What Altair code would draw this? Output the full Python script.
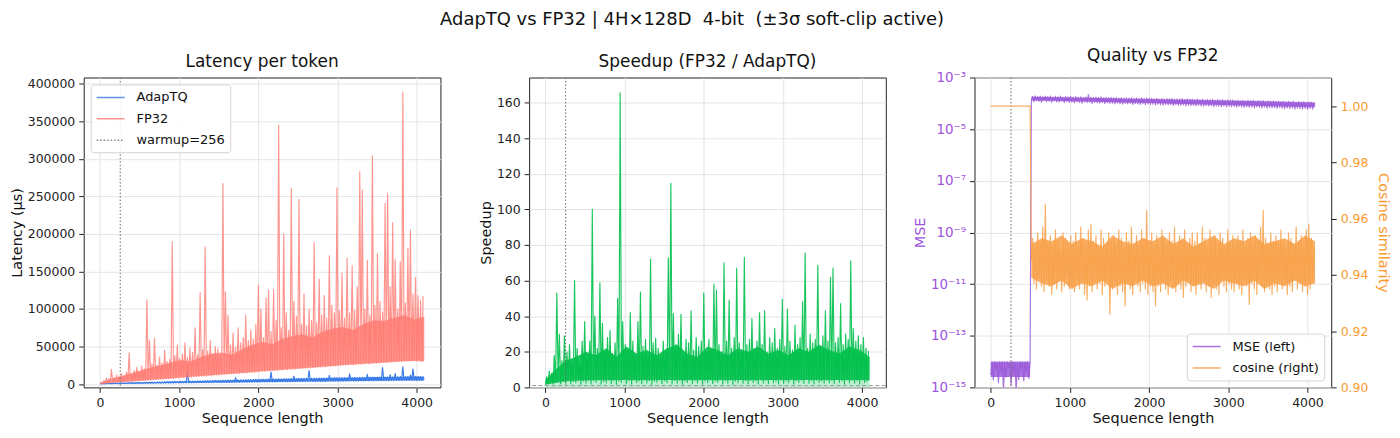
import altair as alt
import pandas as pd

FONT = "DejaVu Sans"
TITLE = "AdapTQ vs FP32 | 4H\u00d7128D \u00a04-bit \u00a0(\u00b13\u03c3 soft-clip active)"

# sequence positions of the sampled troughs (lo) and peaks (hi)
SEQ_LO = list(range(1, 4096, 32))
SEQ_HI = list(range(17, 4096, 32))
WARMUP = 256

# positions where the solid core of each noisy band was read (every 128 tokens)
BAND_SEQ = [1] + list(range(128, 4097, 128))

# ---- Latency per token (values in thousands of microseconds) ----
FP32_LO_K = [
    0.3, 0.5, 1.0, 1.1, 1.7, 1.8, 2.2, 2.3, 2.8, 2.7, 3.2, 3.3, 3.8, 3.7, 4.2, 4.3,
    4.6, 4.8, 5.3, 5.2, 5.8, 5.9, 6.1, 6.5, 6.4, 7.0, 7.1, 7.3, 7.8, 7.6, 8.2, 8.3,
    8.7, 8.6, 9.2, 9.4, 9.3, 9.9, 10.2, 10.1, 10.7, 10.8, 11.0, 11.5, 11.3, 11.9, 12.2, 12.1,
    12.7, 12.9, 13.1, 13.6, 13.4, 14.1, 14.3, 14.2, 14.9, 15.1, 15.0, 15.7, 15.9, 15.8, 16.5, 16.7,
    17.0, 17.2, 17.6, 17.4, 18.1, 18.3, 18.2, 18.9, 19.0, 19.4, 19.3, 19.9, 20.1, 20.0, 20.7, 20.9,
    21.1, 21.5, 21.3, 22.0, 22.2, 22.1, 22.8, 23.0, 23.2, 23.1, 23.8, 24.0, 24.3, 24.1, 24.9, 25.1,
    25.4, 25.3, 25.8, 26.1, 25.9, 26.5, 26.7, 26.6, 27.1, 27.3, 27.2, 27.8, 28.0, 27.9, 28.4, 28.6,
    28.8, 28.7, 29.3, 29.5, 29.4, 29.9, 30.2, 30.1, 30.6, 30.8, 30.7, 31.2, 31.4, 31.3, 31.8, 30.0,
]
FP32_HI_K = [
    2.5, 5, 8, 7, 19.5, 9, 12, 10, 14, 11, 16, 41.6, 13, 18, 22, 17,
    24, 20, 112.4, 59, 27, 61, 25, 36, 28, 45, 30, 33, 189.8, 38, 52, 34,
    40, 55, 36, 48, 42, 75, 39, 122, 46, 183, 44, 58, 41, 50, 47, 38,
    267, 123, 92, 52, 68, 49, 75, 55, 62, 92, 58, 72, 60, 80, 132, 100,
    62, 115, 125, 70, 126, 85, 344.7, 75, 200, 95, 72, 260.6, 110, 90, 246, 80,
    120, 78, 100, 85, 188.5, 82, 140, 92, 118, 88, 170.8, 105, 95, 261.5, 98, 148,
    88, 167.7, 95, 158, 98, 130, 282.7, 258.4, 100, 165, 92, 304, 105, 174, 110, 96,
    240.7, 254, 130, 215, 166, 100, 163, 389, 108, 181, 205, 120, 142, 118, 112, 117,
]
FP32_CORE_LO_K = [0.3, 1.3, 2.4, 3.5, 4.6, 5.6, 6.6, 7.6, 8.7, 9.7, 10.7, 11.7, 12.7, 13.8, 14.8, 15.9, 17.0,
                  18.0, 19.0, 20.0, 21.1, 22.0, 23.0, 24.2, 25.4, 26.2, 27.0, 27.9, 28.8, 29.6, 30.5, 30.8, 30.5]
FP32_CORE_HI_K = [1.5, 6, 10, 14, 18, 22, 25, 29, 32, 30, 36, 40, 42, 39, 46, 52, 56,
                  53, 60, 64, 66, 62, 70, 74, 76, 72, 80, 85, 84, 88, 92, 86, 90]

ADAP_LO_K = [
    0.2, 0.3, 0.3, 0.4, 0.4, 0.5, 0.5, 0.6, 0.6, 0.6, 0.7, 0.7, 0.8, 0.8, 0.9, 0.9,
    0.9, 1.0, 1.0, 1.1, 1.0, 1.1, 1.2, 1.2, 1.2, 1.3, 1.3, 1.4, 1.3, 1.4, 1.5, 1.5,
    1.5, 1.6, 1.6, 1.7, 1.6, 1.7, 1.8, 1.8, 1.8, 1.9, 1.9, 2.0, 1.9, 2.0, 2.1, 2.1,
    2.1, 2.2, 2.2, 2.3, 2.2, 2.3, 2.4, 2.4, 2.4, 2.5, 2.5, 2.6, 2.5, 2.6, 2.7, 2.7,
    2.7, 2.8, 2.8, 2.9, 2.8, 2.9, 3.0, 3.0, 3.0, 3.1, 3.1, 3.2, 3.1, 3.2, 3.3, 3.3,
    3.3, 3.4, 3.4, 3.5, 3.4, 3.5, 3.6, 3.6, 3.6, 3.7, 3.7, 3.8, 3.7, 3.8, 3.9, 3.9,
    3.9, 4.0, 4.0, 4.1, 4.0, 4.1, 4.2, 4.2, 4.2, 4.3, 4.3, 4.4, 4.3, 4.4, 4.5, 4.5,
    4.5, 4.6, 4.6, 4.7, 4.6, 4.7, 4.8, 4.8, 4.8, 4.9, 4.9, 5.0, 4.9, 5.0, 5.1, 4.8,
]
ADAP_HI_K = [
    0.6, 0.8, 0.9, 1.1, 1.0, 1.3, 1.4, 1.3, 1.6, 1.7, 1.6, 1.9, 2.0, 1.9, 2.2, 2.3,
    2.3, 2.5, 2.4, 2.6, 2.8, 2.7, 2.9, 3.0, 2.9, 3.1, 3.3, 3.2, 3.4, 3.5, 3.4, 3.6,
    3.7, 3.6, 17.2, 3.9, 4.0, 3.9, 4.2, 4.3, 4.2, 4.5, 4.6, 4.5, 4.8, 4.9, 4.8, 5.0,
    5.1, 5.0, 5.3, 5.4, 5.3, 8.5, 5.6, 5.7, 5.6, 5.9, 6.0, 5.9, 6.2, 6.3, 6.2, 6.5,
    6.5, 6.6, 6.7, 16.0, 6.8, 6.9, 7.0, 6.9, 7.1, 7.2, 7.1, 7.3, 10.5, 7.4, 7.5, 7.4,
    7.6, 7.7, 18.0, 7.8, 7.9, 7.8, 8.0, 8.1, 8.0, 8.2, 11.5, 8.3, 8.4, 8.5, 8.4, 8.6,
    8.7, 8.6, 13.5, 8.8, 8.9, 8.8, 9.0, 9.1, 9.0, 13.0, 9.2, 9.3, 9.2, 9.4, 9.5, 22.0,
    9.5, 9.6, 12.5, 9.7, 14.0, 9.8, 9.9, 23.0, 9.9, 10.0, 12.0, 20.0, 10.1, 10.2, 10.1, 10.3,
]
ADAP_CORE_LO_K = [0.2, 0.35, 0.5, 0.7, 0.9, 1.05, 1.2, 1.35, 1.5, 1.65, 1.8, 1.95, 2.1, 2.25, 2.4, 2.55, 2.7,
                  2.85, 3.0, 3.15, 3.3, 3.45, 3.6, 3.75, 3.9, 4.05, 4.2, 4.35, 4.5, 4.65, 4.8, 4.8, 4.8]
ADAP_CORE_HI_K = [0.5, 0.9, 1.3, 1.9, 2.2, 2.6, 2.8, 3.3, 3.5, 3.7, 4.1, 4.6, 4.8, 5.0, 5.4, 5.9, 6.2,
                  6.4, 6.8, 7.2, 7.3, 7.4, 7.8, 8.3, 8.4, 8.5, 8.8, 9.3, 9.3, 9.4, 9.7, 10.2, 9.7]

# ---- Speedup (FP32 / AdapTQ) ----
SPEED_LO = [
    1.5, 2.2, 2.6, 1.9, 2.8, 3.2, 2.1, 3.5, 2.4, 3.8, 2.0, 3.3, 2.7, 4.0, 1.8, 3.6,
    2.5, 4.1, 2.0, 3.7, 2.9, 4.3, 1.9, 3.4, 2.6, 4.2, 2.2, 3.9, 1.8, 3.5, 2.8, 4.4,
    2.3, 3.8, 1.9, 4.1, 2.7, 3.6, 2.1, 4.3, 2.5, 3.9, 1.7, 3.5, 2.9, 4.2, 2.2, 3.7,
    2.6, 4.4, 2.0, 3.8, 2.4, 4.0, 1.8, 3.6, 2.8, 4.3, 2.1, 3.9, 2.5, 4.1, 1.9, 3.7,
    2.7, 4.2, 2.2, 3.5, 2.9, 4.4, 2.0, 3.8, 2.4, 4.1, 1.8, 3.6, 2.6, 4.3, 2.3, 3.9,
    2.1, 4.0, 2.8, 3.7, 1.9, 4.2, 2.5, 3.9, 2.2, 4.4, 2.7, 3.6, 2.0, 4.1, 2.4, 3.8,
    2.6, 4.3, 1.9, 3.7, 2.8, 4.0, 2.2, 4.5, 2.4, 3.8, 2.0, 4.2, 2.7, 3.6, 2.3, 4.1,
    2.5, 3.9, 2.1, 4.4, 2.8, 3.7, 1.9, 4.2, 2.6, 4.0, 2.3, 3.8, 2.0, 4.3, 2.7, 3.5,
]
SPEED_HI = [
    6, 9, 8, 18, 53, 30, 15, 29, 20, 24, 13, 60, 22, 14, 26, 37,
    18, 26, 100, 40, 22, 58.7, 36, 20, 28, 32, 19, 25, 50, 165.4, 37, 24,
    21, 42, 26, 18, 37, 53.5, 23, 27, 19, 72, 25, 27.6, 22, 18, 26, 20,
    72.7, 114.6, 41.5, 24, 30, 41, 19, 27, 25, 43, 21, 28, 23, 26, 53, 20,
    27, 22, 58, 54.6, 24, 20, 70, 26, 49, 22, 28, 67, 25, 21, 73, 24,
    27, 38.6, 22, 26, 42, 24, 43, 20, 28, 25, 33, 22, 27, 49.4, 23, 44,
    26, 21, 35, 24, 28, 48, 75.4, 22, 30, 25, 27, 68.6, 23, 29, 43, 26,
    61.8, 67, 25, 28, 47, 24, 30, 27, 71, 33, 26, 29, 24, 28, 22, 20.5,
]
SPEED_CORE_LO = [1.5, 2.5, 3.4, 3.7, 3.9, 4.0, 4.0, 4.1, 4.1, 4.0, 4.0, 4.1, 4.1, 4.2, 4.0, 4.1, 4.1,
                 4.0, 4.2, 4.1, 4.0, 4.1, 4.2, 4.1, 4.2, 4.1, 4.1, 4.2, 4.2, 4.1, 4.2, 4.1, 4.0]
SPEED_CORE_HI = [4, 10, 15, 17, 20, 18, 22, 17, 23, 19, 21, 18, 22, 24, 19, 17, 23,
                 21, 18, 22, 20, 23, 19, 21, 18, 22, 20, 24, 21, 19, 23, 21, 17]

# ---- Quality vs FP32 ----
MSE_LO = [
    3e-15, 2e-15, 5e-15, 1.5e-15, 4e-15, 8e-16, 2.5e-15, 6e-15, 1.2e-15, 3.5e-15, 7e-16, 2e-15, 5e-15, 1.8e-15, 4e-15, 2.2e-15,
    1.22e-4, 1.15e-4, 1.28e-4, 1.18e-4, 1.1e-4, 1.25e-4, 1.16e-4, 1.2e-4, 1.08e-4, 1.24e-4, 1.14e-4, 1.12e-4, 1.2e-4, 1.06e-4, 1.17e-4, 1.1e-4,
    1.12e-4, 1.05e-4, 1.15e-4, 1.08e-4, 1.02e-4, 1.13e-4, 1.07e-4, 1.1e-4, 9.8e-5, 1.09e-4, 1.04e-4, 1.01e-4, 1.08e-4, 9.7e-5, 1.05e-4, 1.0e-4,
    1.01e-4, 9.5e-5, 1.03e-4, 9.7e-5, 9.3e-5, 1.0e-4, 9.6e-5, 9.9e-5, 9.0e-5, 9.8e-5, 9.4e-5, 9.1e-5, 9.7e-5, 8.8e-5, 9.5e-5, 9.0e-5,
    9.2e-5, 8.7e-5, 9.3e-5, 8.9e-5, 8.5e-5, 9.1e-5, 8.7e-5, 9.0e-5, 8.2e-5, 8.9e-5, 8.5e-5, 8.3e-5, 8.8e-5, 8.0e-5, 8.6e-5, 8.2e-5,
    8.4e-5, 7.9e-5, 8.5e-5, 8.0e-5, 7.7e-5, 8.3e-5, 7.9e-5, 8.1e-5, 7.4e-5, 8.0e-5, 7.7e-5, 7.5e-5, 7.9e-5, 7.2e-5, 7.8e-5, 7.4e-5,
    7.6e-5, 7.1e-5, 7.7e-5, 7.3e-5, 6.9e-5, 7.4e-5, 7.1e-5, 7.3e-5, 6.7e-5, 7.2e-5, 6.9e-5, 6.7e-5, 7.1e-5, 6.5e-5, 7.0e-5, 6.6e-5,
    6.8e-5, 6.4e-5, 6.9e-5, 6.5e-5, 6.2e-5, 6.7e-5, 6.4e-5, 6.6e-5, 6.0e-5, 6.5e-5, 6.2e-5, 6.0e-5, 6.4e-5, 5.8e-5, 6.3e-5, 6.0e-5,
]
MSE_HI = [
    9.8e-15, 1.0e-14, 9.6e-15, 1.0e-14, 9.9e-15, 9.7e-15, 1.0e-14, 9.5e-15, 1.0e-14, 9.8e-15, 9.6e-15, 1.0e-14, 9.9e-15, 9.7e-15, 1.0e-14, 9.8e-15,
    1.85e-4, 1.95e-4, 1.8e-4, 1.9e-4, 1.78e-4, 1.88e-4, 1.82e-4, 1.92e-4, 1.76e-4, 1.86e-4, 1.8e-4, 1.9e-4, 1.75e-4, 1.84e-4, 1.79e-4, 1.87e-4,
    1.74e-4, 1.82e-4, 1.7e-4, 1.78e-4, 1.68e-4, 1.76e-4, 2.2e-4, 1.72e-4, 1.66e-4, 1.75e-4, 1.69e-4, 1.77e-4, 1.64e-4, 1.72e-4, 1.67e-4, 1.7e-4,
    1.62e-4, 1.68e-4, 1.58e-4, 1.65e-4, 1.56e-4, 1.63e-4, 1.59e-4, 1.66e-4, 1.54e-4, 1.61e-4, 1.57e-4, 1.64e-4, 1.52e-4, 1.6e-4, 1.55e-4, 1.58e-4,
    1.5e-4, 1.56e-4, 1.47e-4, 1.53e-4, 1.45e-4, 1.52e-4, 1.48e-4, 1.54e-4, 1.43e-4, 1.5e-4, 1.46e-4, 1.52e-4, 1.41e-4, 1.48e-4, 1.44e-4, 1.46e-4,
    1.39e-4, 1.45e-4, 1.36e-4, 1.42e-4, 1.34e-4, 1.41e-4, 1.37e-4, 1.43e-4, 1.32e-4, 1.39e-4, 1.35e-4, 1.4e-4, 1.3e-4, 1.37e-4, 1.33e-4, 1.35e-4,
    1.28e-4, 1.34e-4, 1.25e-4, 1.31e-4, 1.23e-4, 1.3e-4, 1.26e-4, 1.32e-4, 1.21e-4, 1.28e-4, 1.24e-4, 1.29e-4, 1.19e-4, 1.26e-4, 1.22e-4, 1.24e-4,
    1.17e-4, 1.23e-4, 1.14e-4, 1.2e-4, 1.12e-4, 1.19e-4, 1.15e-4, 1.21e-4, 1.1e-4, 1.17e-4, 1.13e-4, 1.18e-4, 1.08e-4, 1.15e-4, 1.11e-4, 1.06e-4,
]
# core band of the MSE curve: before the jump (1..497) and after it (513..4096)
MSE_PRE_SEQ = [1, 256, 497]
MSE_PRE_LO = [2.5e-15, 2.5e-15, 2.5e-15]
MSE_PRE_HI = [9.8e-15, 9.8e-15, 9.8e-15]
MSE_POST_SEQ = [513, 768, 1024, 1280, 1536, 1792, 2048, 2304, 2560, 2816, 3072, 3328, 3584, 3840, 4096]
MSE_POST_LO = [1.3e-4, 1.25e-4, 1.2e-4, 1.15e-4, 1.1e-4, 1.06e-4, 1.02e-4, 9.7e-5, 9.3e-5, 8.9e-5, 8.5e-5, 8.1e-5, 7.7e-5, 7.3e-5, 7.0e-5]
MSE_POST_HI = [1.8e-4, 1.75e-4, 1.7e-4, 1.64e-4, 1.58e-4, 1.52e-4, 1.47e-4, 1.42e-4, 1.37e-4, 1.32e-4, 1.27e-4, 1.22e-4, 1.17e-4, 1.12e-4, 1.08e-4]

COS_LO = [
    1.0, 1.0, 1.0, 1.0, 1.0, 1.0, 1.0, 1.0, 1.0, 1.0, 1.0, 1.0, 1.0, 1.0, 1.0, 1.0,
    0.945, 0.937, 0.935, 0.939, 0.936, 0.934, 0.938, 0.936, 0.933, 0.937, 0.935, 0.938, 0.934, 0.936, 0.939, 0.935,
    0.936, 0.934, 0.938, 0.935, 0.937, 0.933, 0.931, 0.936, 0.934, 0.938, 0.935, 0.937, 0.933, 0.936, 0.938, 0.926,
    0.935, 0.937, 0.933, 0.936, 0.934, 0.929, 0.937, 0.935, 0.933, 0.938, 0.936, 0.934, 0.937, 0.935, 0.933, 0.936,
    0.934, 0.929, 0.936, 0.934, 0.937, 0.935, 0.933, 0.938, 0.936, 0.934, 0.937, 0.935, 0.932, 0.936, 0.938, 0.934,
    0.936, 0.933, 0.937, 0.935, 0.938, 0.934, 0.936, 0.932, 0.937, 0.935, 0.933, 0.938, 0.936, 0.934, 0.937, 0.935,
    0.934, 0.937, 0.935, 0.933, 0.938, 0.936, 0.9295, 0.937, 0.935, 0.933, 0.938, 0.936, 0.934, 0.937, 0.935, 0.933,
    0.936, 0.934, 0.938, 0.935, 0.937, 0.933, 0.936, 0.934, 0.938, 0.935, 0.937, 0.934, 0.936, 0.933, 0.935, 0.938,
]
COS_HI = [
    1.0, 1.0, 1.0, 1.0, 1.0, 1.0, 1.0, 1.0, 1.0, 1.0, 1.0, 1.0, 1.0, 1.0, 1.0, 1.0,
    0.953, 0.950, 0.955, 0.952, 0.957, 0.965, 0.951, 0.954, 0.950, 0.956, 0.952, 0.949, 0.955, 0.953, 0.951, 0.954,
    0.952, 0.955, 0.950, 0.957, 0.953, 0.951, 0.956, 0.958, 0.952, 0.954, 0.950, 0.956, 0.953, 0.951, 0.955, 0.952,
    0.954, 0.951, 0.956, 0.953, 0.950, 0.955, 0.952, 0.957, 0.951, 0.954, 0.950, 0.956, 0.953, 0.963, 0.952, 0.955,
    0.951, 0.954, 0.950, 0.956, 0.953, 0.951, 0.955, 0.952, 0.957, 0.950, 0.954, 0.952, 0.956, 0.951, 0.953, 0.955,
    0.952, 0.955, 0.951, 0.957, 0.953, 0.950, 0.956, 0.952, 0.954, 0.951, 0.955, 0.953, 0.950, 0.956, 0.952, 0.954,
    0.951, 0.954, 0.952, 0.956, 0.950, 0.953, 0.955, 0.951, 0.954, 0.952, 0.957, 0.963, 0.953, 0.951, 0.955, 0.952,
    0.954, 0.951, 0.956, 0.952, 0.950, 0.955, 0.953, 0.951, 0.957, 0.952, 0.954, 0.950, 0.956, 0.958, 0.953, 0.949,
]
COS_CORE_SEQ = [513] + list(range(640, 4097, 128))
COS_CORE_LO = [0.939, 0.937, 0.936, 0.938, 0.935, 0.937, 0.936, 0.938, 0.935, 0.937, 0.936, 0.938, 0.936, 0.937, 0.935,
               0.938, 0.936, 0.937, 0.935, 0.938, 0.937, 0.936, 0.938, 0.935, 0.937, 0.936, 0.938, 0.936, 0.937]
COS_CORE_HI = [0.951, 0.953, 0.952, 0.954, 0.951, 0.953, 0.952, 0.950, 0.954, 0.952, 0.951, 0.953, 0.952, 0.954, 0.951,
               0.953, 0.950, 0.952, 0.954, 0.951, 0.953, 0.952, 0.954, 0.951, 0.952, 0.953, 0.951, 0.954, 0.952]

for name, arr in [("FP32_LO_K", FP32_LO_K), ("FP32_HI_K", FP32_HI_K), ("ADAP_LO_K", ADAP_LO_K),
                  ("ADAP_HI_K", ADAP_HI_K), ("SPEED_LO", SPEED_LO), ("SPEED_HI", SPEED_HI),
                  ("MSE_LO", MSE_LO), ("MSE_HI", MSE_HI), ("COS_LO", COS_LO), ("COS_HI", COS_HI)]:
    assert len(arr) == len(SEQ_LO), (name, len(arr))
for name, arr in [("FP32_CORE_LO_K", FP32_CORE_LO_K), ("FP32_CORE_HI_K", FP32_CORE_HI_K),
                  ("ADAP_CORE_LO_K", ADAP_CORE_LO_K), ("ADAP_CORE_HI_K", ADAP_CORE_HI_K),
                  ("SPEED_CORE_LO", SPEED_CORE_LO), ("SPEED_CORE_HI", SPEED_CORE_HI)]:
    assert len(arr) == len(BAND_SEQ), (name, len(arr))
assert len(COS_CORE_LO) == len(COS_CORE_SEQ) == len(COS_CORE_HI)

# colours
BLUE = "#3a7be8"
SALMON = "#ff7b72"
GREEN = "#00c04b"
PURPLE = "#9b59d9"
ORANGE = "#f8a048"
PURPLE_TXT = "#9d55e0"
ORANGE_TXT = "#fb9a2e"
WARM_GRAY = "#666666"

X_DOMAIN = [-205, 4300]
X_TICKS = [0, 1000, 2000, 3000, 4000]
PW, PH = 358, 311
LW = 1.15


def series_table(name, lo, hi, factor=1.0):
    """Zig-zag between the sampled troughs and peaks."""
    rows = []
    for i in range(len(lo)):
        rows.append({"series": name, "seq": SEQ_LO[i], "value": lo[i] * factor})
        rows.append({"series": name, "seq": SEQ_HI[i], "value": hi[i] * factor})
    return pd.DataFrame(rows)


def core_table(segments, factor=1.0):
    rows = []
    for seg, (seqs, lo, hi) in enumerate(segments):
        for s, a, b in zip(seqs, lo, hi):
            rows.append({"seg": seg, "seq": s, "value": b * factor, "floor": a * factor})
    return pd.DataFrame(rows)


def x_enc():
    return alt.X("seq:Q", scale=alt.Scale(domain=X_DOMAIN, nice=False, zero=False),
                 axis=alt.Axis(values=X_TICKS, format="d", title="Sequence length"))


def panel_title(t):
    return alt.TitleParams(t, fontSize=17, fontWeight="normal", font=FONT, offset=6, color="#111")


def band(df, y, color, opacity):
    return alt.Chart(df).mark_area(color=color, opacity=opacity, clip=True, interpolate="linear").encode(
        x=x_enc(), y=y, y2=alt.Y2("floor:Q"), detail="seg:N")


legend_common = dict(title=None, fillColor="rgba(255,255,255,0.85)", strokeColor="#d4d4d4",
                     cornerRadius=3, padding=5, labelFontSize=13, labelFont=FONT,
                     symbolType="M-1,0H3", symbolSize=196, symbolStrokeWidth=1.5,
                     labelOffset=25, rowPadding=6.5, offset=7, labelColor="#111")

# ---------- panel 1 ----------
lat_names = ["AdapTQ", "FP32", "warmup=256"]
lat_color = alt.Color("series:N", scale=alt.Scale(domain=lat_names, range=[BLUE, SALMON, WARM_GRAY]),
                      legend=alt.Legend(orient="top-left", **legend_common))
lat_dash = alt.StrokeDash("series:N", scale=alt.Scale(domain=lat_names, range=[[1, 0], [1, 0], [1.5, 2]]),
                          legend=alt.Legend(orient="top-left", **legend_common))
y1 = alt.Y("value:Q", scale=alt.Scale(domain=[-4400, 408400], nice=False, zero=False),
           axis=alt.Axis(values=[0, 50000, 100000, 150000, 200000, 250000, 300000, 350000, 400000],
                         format="d", title="Latency (\u00b5s)"))

adap_df = series_table("AdapTQ", ADAP_LO_K, ADAP_HI_K, 1000.0)
fp32_df = series_table("FP32", FP32_LO_K, FP32_HI_K, 1000.0)
adap_core = core_table([(BAND_SEQ, ADAP_CORE_LO_K, ADAP_CORE_HI_K)], 1000.0)
fp32_core = core_table([(BAND_SEQ, FP32_CORE_LO_K, FP32_CORE_HI_K)], 1000.0)
warm1_df = pd.DataFrame({"series": ["warmup=256"], "seq": [WARMUP]})

adap_band = band(adap_core, y1, BLUE, 0.9)
adap_line = alt.Chart(adap_df).mark_line(strokeWidth=LW, strokeJoin="round", clip=True).encode(
    x=x_enc(), y=y1, color=lat_color, strokeDash=lat_dash)
fp32_band = band(fp32_core, y1, SALMON, 0.8)
fp32_line = alt.Chart(fp32_df).mark_line(strokeWidth=LW, opacity=0.8, strokeJoin="round", clip=True).encode(
    x=x_enc(), y=y1, color=lat_color, strokeDash=lat_dash)
warm1 = alt.Chart(warm1_df).mark_rule(strokeWidth=1.0).encode(
    x=x_enc(), color=lat_color, strokeDash=lat_dash)
panel1 = alt.layer(adap_band, adap_line, fp32_band, fp32_line, warm1).properties(
    width=PW, height=PH, title=panel_title("Latency per token"))

# ---------- panel 2 ----------
speed_df = series_table("Speedup", SPEED_LO, SPEED_HI)
speed_core = core_table([(BAND_SEQ, SPEED_CORE_LO, SPEED_CORE_HI)])
speed_pale_df = core_table([(BAND_SEQ, [0.0] * len(BAND_SEQ), SPEED_CORE_LO)])
warm_df = pd.DataFrame({"seq": [WARMUP]})
one_df = pd.DataFrame({"value": [1.0]})
y2 = alt.Y("value:Q", scale=alt.Scale(domain=[0, 174], nice=False),
           axis=alt.Axis(values=[0, 20, 40, 60, 80, 100, 120, 140, 160], title="Speedup", labelOverlap=False))
speed_pale = band(speed_pale_df, y2, GREEN, 0.25)
speed_band = band(speed_core, y2, GREEN, 0.9)
speed_line = alt.Chart(speed_df).mark_line(strokeWidth=LW, opacity=0.9, strokeJoin="round",
                                           color=GREEN, clip=True).encode(x=x_enc(), y=y2)
warm2 = alt.Chart(warm_df).mark_rule(strokeWidth=1.0, color=WARM_GRAY, strokeDash=[1.5, 2]).encode(x=x_enc())
one_rule = alt.Chart(one_df).mark_rule(strokeWidth=1.0, color="#999999", strokeDash=[4, 2.5]).encode(y=y2)
panel2 = alt.layer(speed_pale, speed_band, speed_line, warm2, one_rule).properties(
    width=PW, height=PH, title=panel_title("Speedup (FP32 / AdapTQ)"))

# ---------- panel 3 ----------
q_names = ["MSE (left)", "cosine (right)"]
q_color = alt.Color("series:N", scale=alt.Scale(domain=q_names, range=[PURPLE, ORANGE]),
                    legend=alt.Legend(orient="bottom-right", **legend_common))
mse_df = series_table("MSE (left)", MSE_LO, MSE_HI)
cos_df = series_table("cosine (right)", COS_LO, COS_HI)
mse_core = core_table([(MSE_PRE_SEQ, MSE_PRE_LO, MSE_PRE_HI), (MSE_POST_SEQ, MSE_POST_LO, MSE_POST_HI)])
cos_core = core_table([(COS_CORE_SEQ, COS_CORE_LO, COS_CORE_HI)])

sup_expr = ("datum.value < 3e-15 ? '10\u207b\u00b9\u2075' : datum.value < 3e-13 ? '10\u207b\u00b9\u00b3' : "
            "datum.value < 3e-11 ? '10\u207b\u00b9\u00b9' : datum.value < 3e-9 ? '10\u207b\u2079' : "
            "datum.value < 3e-7 ? '10\u207b\u2077' : datum.value < 3e-5 ? '10\u207b\u2075' : '10\u207b\u00b3'")
mse_scale = alt.Scale(type="log", domain=[1e-15, 1e-3], nice=False)
cos_scale = alt.Scale(domain=[0.9, 1.0102], nice=False, zero=False)
y_mse = alt.Y("value:Q", scale=mse_scale,
              axis=alt.Axis(orient="left", values=[1e-15, 1e-13, 1e-11, 1e-9, 1e-7, 1e-5, 1e-3],
                            labelExpr=sup_expr, title="MSE", titleColor=PURPLE_TXT,
                            labelColor=PURPLE_TXT, grid=True, labelFontSize=13.5, labelOverlap=False))
y_cos = alt.Y("value:Q", scale=cos_scale,
              axis=alt.Axis(orient="right", values=[0.90, 0.92, 0.94, 0.96, 0.98, 1.00], format=".2f",
                            title="Cosine similarity", titleColor=ORANGE_TXT, labelColor=ORANGE_TXT,
                            grid=False, titlePadding=8, labelOverlap=False))
mse_band = band(mse_core, y_mse, PURPLE, 0.85)
mse_line = alt.Chart(mse_df).mark_line(strokeWidth=LW, opacity=0.85, strokeJoin="round", clip=True).encode(
    x=x_enc(), y=y_mse, color=q_color)
mse_layer = alt.layer(mse_band, mse_line)
warm3 = alt.Chart(warm_df).mark_rule(strokeWidth=1.0, color=WARM_GRAY, strokeDash=[1.5, 2]).encode(x=x_enc())
cos_band = band(cos_core, y_cos, ORANGE, 0.85)
cos_line = alt.Chart(cos_df).mark_line(strokeWidth=LW, opacity=0.85, strokeJoin="round", clip=True).encode(
    x=x_enc(), y=y_cos, color=q_color)
cos_layer = alt.layer(cos_band, cos_line)
panel3 = alt.layer(mse_layer, warm3, cos_layer).resolve_scale(y="independent").properties(
    width=PW, height=PH, title=panel_title("Quality vs FP32"))

chart = alt.hconcat(panel1, panel2, panel3, spacing=89, bounds="flush").resolve_scale(
    color="independent", strokeDash="independent", x="independent", y="independent"
).properties(
    title=alt.TitleParams(TITLE, fontSize=18, fontWeight="normal", font=FONT, anchor="middle",
                          offset=17, dx=-8, color="#111"),
    padding={"left": 0, "right": 0, "top": 2, "bottom": 0},
).configure(font=FONT).configure_view(
    stroke="#222222", strokeWidth=1
).configure_axis(
    labelFont=FONT, titleFont=FONT, labelFontSize=12.5, titleFontSize=14.5, labelColor="#222",
    titleColor="#111", titleFontWeight="normal", tickColor="#222", tickSize=5, labelPadding=4,
    titlePadding=3, domain=False, gridColor="#e5e5e5", gridWidth=1, labelOverlap=False
)

chart.save("out.html", embed_options={"renderer": "svg", "actions": False})
